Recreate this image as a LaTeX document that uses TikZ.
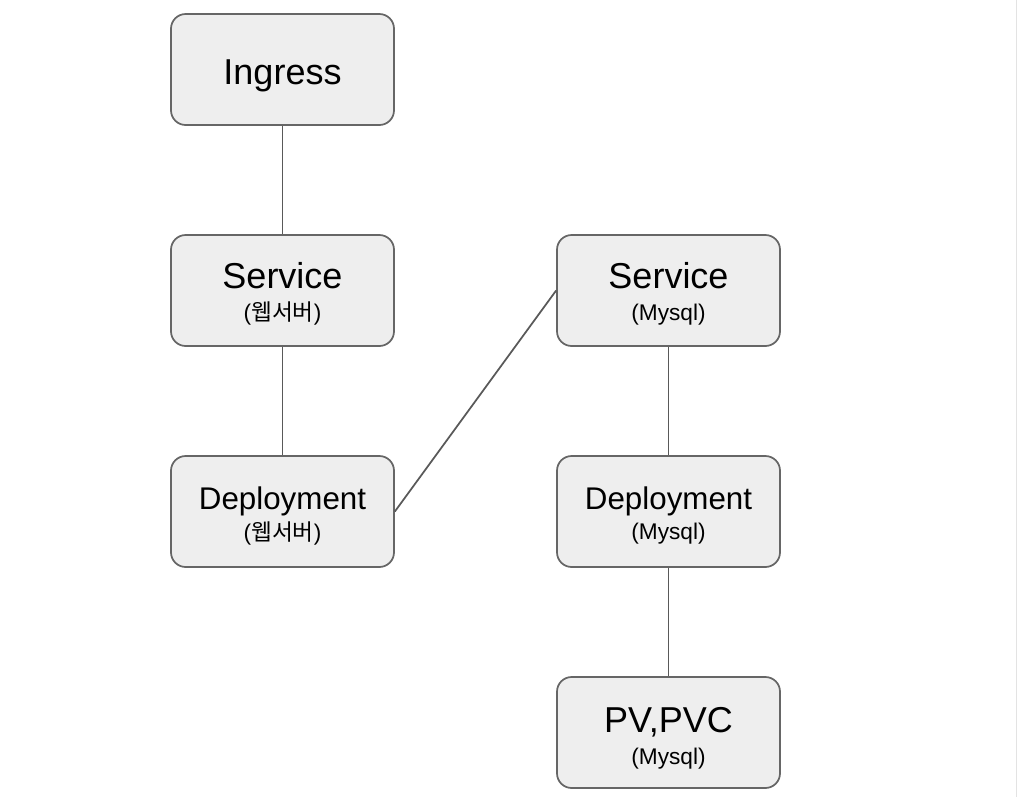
\documentclass[tikz,border=0pt]{standalone}
\usepackage{fontspec}
\setmainfont{Liberation Sans}
\newfontfamily\cjk{Noto Sans CJK KR}
\definecolor{boxfill}{HTML}{EEEEEE}
\definecolor{boxline}{HTML}{666666}
\definecolor{linecol}{HTML}{595959}
\definecolor{edgeline}{HTML}{E3E3E3}
\begin{document}
\begin{tikzpicture}[x=0.75pt,y=-0.75pt,
  box/.style={draw=boxline, fill=boxfill, line width=1.3pt, rounded corners=11pt,
    minimum width=167.25pt, minimum height=83.25pt, inner sep=0pt},
  big/.style={anchor=base, inner sep=0pt, font=\fontsize{27}{30}\selectfont},
  mid/.style={anchor=base, inner sep=0pt, font=\fontsize{23.5}{27}\selectfont},
  sub/.style={anchor=base, inner sep=0pt, font=\fontsize{17}{20}\selectfont},
  link/.style={draw=linecol, line width=1.3pt}]
\useasboundingbox (0,0) rectangle (1018,797);
\fill[white] (0,0) rectangle (1018,797);
\draw[edgeline, line width=1.2pt] (1016.5,0) -- (1016.5,797);

% boxes
\node[box] (ing) at (282.5,69.5) {};
\node[box] (svcw) at (282.5,290.5) {};
\node[box] (depw) at (282.5,511.5) {};
\node[box] (svcm) at (668.5,290.5) {};
\node[box] (depm) at (668.5,511.5) {};
\node[box] (pv) at (668.5,732.5) {};

% connectors
\draw[link] (ing.south) -- (svcw.north);
\draw[link] (svcw.south) -- (depw.north);
\draw[link] (depw.east) -- (svcm.west);
\draw[link] (svcm.south) -- (depm.north);
\draw[link] (depm.south) -- (pv.north);

% texts
\node[big] (ingT) at (282.5,84) {Ingress};
\node[big] (svcwT) at (282.5,288) {Service};
\node[sub] (svcwS) at (282.5,320) {({\cjk 웹서버})};
\node[mid] (depwT) at (282.5,509) {Deployment};
\node[sub] (depwS) at (282.5,540) {({\cjk 웹서버})};
\node[big] (svcmT) at (668.5,288) {Service};
\node[sub] (svcmS) at (668.5,320) {(Mysql)};
\node[mid] (depmT) at (668.5,509) {Deployment};
\node[sub] (depmS) at (668.5,539) {(Mysql)};
\node[big] (pvT) at (668.5,732) {PV,PVC};
\node[sub] (pvS) at (668.5,764) {(Mysql)};
\end{tikzpicture}
\end{document}
